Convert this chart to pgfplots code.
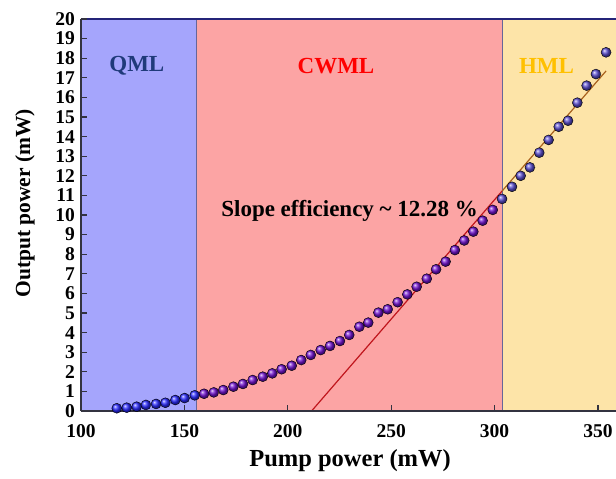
\documentclass[border=0pt]{standalone}
\usepackage{pgfplots}
\pgfplotsset{compat=1.18}
\usepackage{fontspec}
\setmainfont{Liberation Serif}

\definecolor{qmlbg}{HTML}{A5A5FC}
\definecolor{cwmlbg}{HTML}{FCA4A4}
\definecolor{hmlbg}{HTML}{FDE4A8}
\definecolor{qmltxt}{HTML}{1F3A7A}
\definecolor{hmltxt}{HTML}{FFC000}
\definecolor{ballq}{HTML}{2828FF}
\definecolor{ballc}{HTML}{7010D0}
\definecolor{ballh}{HTML}{5A4CD0}
\definecolor{fitc}{HTML}{C0161D}
\definecolor{fith}{HTML}{A8611E}
\definecolor{axc}{HTML}{333340}

\begin{document}
\begin{tikzpicture}
\begin{axis}[
  at={(0,0)}, anchor=south west,
  scale only axis,
  width=535pt, height=392pt,
  xmin=100, xmax=358.7, ymin=0, ymax=20,
  xtick={100,150,200,250,300,350},
  ytick={0,1,...,20},
  axis x line*=bottom, axis y line*=left,
  axis line style={axc, line width=1.4pt},
  tick align=inside,
  major tick length=6pt,
  tick style={axc, line width=1.2pt},
  axis on top,
  /pgf/number format/assume math mode=true,
  ticklabel style={font=\fontsize{19.5}{20}\selectfont\bfseries},
  yticklabel style={inner sep=1pt, xshift=-5pt},
  xticklabel style={inner sep=1pt, yshift=-12pt},
  xlabel={Pump power (mW)},
  ylabel={Output power (mW)},
  xlabel style={font=\fontsize{24.5}{26}\selectfont\bfseries, at={(rel axis cs:0.503,0)}, anchor=center, yshift=-50pt},
  ylabel style={font=\fontsize{21.5}{24}\selectfont\bfseries, at={(rel axis cs:0,0.53)}, anchor=center, yshift=56pt},
  clip=true,
]
% region backgrounds
\addplot[fill=qmlbg, draw=none] coordinates {(100,20) (155.6,20)} \closedcycle;
\addplot[fill=cwmlbg, draw=none] coordinates {(155.6,20) (303.6,20)} \closedcycle;
\addplot[fill=hmlbg, draw=none] coordinates {(303.6,20) (358.7,20)} \closedcycle;
\addplot[gray!80!blue, line width=0.8pt] coordinates {(155.6,0) (155.6,20)};
\addplot[gray!80!blue, line width=0.8pt] coordinates {(303.6,0) (303.6,20)};

% measured output power
\addplot[only marks, mark=ball, mark size=5pt, ball color=ballq] coordinates {
(117.3,0.14) (122.1,0.17) (126.9,0.22) (131.4,0.31) (136.3,0.36)
(140.8,0.42) (145.6,0.56) (150.1,0.66) (155.0,0.80)
};
\addplot[only marks, mark=ball, mark size=5pt, ball color=ballc] coordinates {
(159.5,0.88) (164.2,0.95) (168.8,1.07) (173.7,1.24) (178.3,1.38)
(183.0,1.58) (187.9,1.75) (192.5,1.92) (197.0,2.13) (201.9,2.31)
(206.5,2.60) (211.1,2.86) (215.9,3.11) (220.4,3.32) (225.2,3.57)
(229.7,3.88) (234.6,4.30) (238.9,4.51) (243.8,5.02) (248.3,5.19)
(253.1,5.55) (257.8,5.95) (262.3,6.34) (267.2,6.75) (271.7,7.23)
(276.3,7.62) (280.8,8.21) (285.3,8.70) (289.7,9.15) (294.2,9.71)
(299.1,10.26)
};
\addplot[only marks, mark=ball, mark size=5pt, ball color=ballh] coordinates {
(303.6,10.82) (308.4,11.44) (312.6,12.00) (317.1,12.43) (321.6,13.18)
(326.1,13.83) (331.0,14.50) (335.5,14.81) (340.0,15.73) (344.5,16.60)
(349.0,17.19) (353.9,18.30)
};

% linear fit
\addplot[fitc, line width=1.2pt] coordinates {(211.5,0) (303.6,11.22)};
\addplot[fith, line width=1.2pt] coordinates {(303.6,11.22) (353.9,17.35)};

% labels
\node[font=\fontsize{23}{24}\selectfont\bfseries, text=qmltxt] at (axis cs:127,17.6) {QML};
\node[font=\fontsize{23}{24}\selectfont\bfseries, text=red] at (axis cs:223.3,17.6) {CWML};
\node[font=\fontsize{23}{24}\selectfont\bfseries, text=hmltxt] at (axis cs:325.1,17.6) {HML};
\node[font=\fontsize{23}{24}\selectfont\bfseries] at (axis cs:229.9,10.2) {Slope efficiency \textasciitilde\ 12.28 \%};

\draw[axc!70!blue, line width=1.2pt] (rel axis cs:0,1) -- (rel axis cs:1,1);
\end{axis}
\pgfresetboundingbox
\useasboundingbox (-81pt,-68pt) rectangle (535pt,411pt);
\end{tikzpicture}
\end{document}
